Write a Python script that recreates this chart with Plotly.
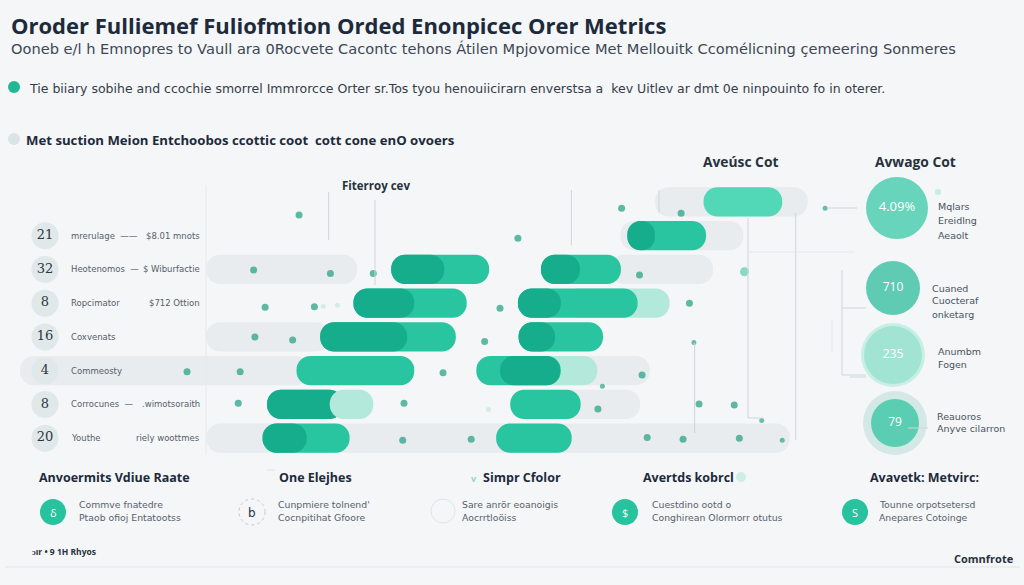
import plotly.graph_objects as go

W, H = 1024, 585
BG = "#f4f6f7"
NAVY = "#1d2a3b"
TEAL = "#29c5a1"
TEAL_DARK = "#16ad8c"
TEAL_LIGHT = "#52d8b6"
TEAL_PALE = "#b3e9da"
GRAY_PILL = "#e8ecee"
DOT = "#1e9f80"

# ---------------- data ----------------
title = "Oroder Fulliemef Fuliofmtion Orded Enonpicec Orer Metrics"
subtitle = ("Ooneb e/l h Emnopres to Vaull ara 0Rocvete Cacontc tehons Átilen "
            "Mpjovomice Met Mellouitk Ccomélicning çemeering Sonmeres")
intro = ("Tie biiary sobihe and ccochie smorrel Immrorcce Orter sr.Tos tyou henouiicirarn "
         "enverstsa a  kev Uitlev ar dmt 0e ninpouinto fo in oterer.")
section = "Met suction Meion Entchoobos ccottic coot  cott cone enO ovoers"

# left table (rows 1..7)
row_ids = [1, 2, 3, 4, 5, 6, 7]
row_numbers = ["21", "32", "8", "16", "4", "8", "20"]
row_names = ["mrerulage  ——", "Heotenomos  —", "Ropcimator", "Coxvenats",
             "Commeosty", "Corrocunes  —", "Youthe"]
row_notes = ["$8.01 mnots", "$ Wiburfactie", "$712 Ottion", "", "",
             ".wimotsoraith", "riely woottmes"]

# background pills (row, start, end) on the 0-100 score scale
gray_row = [0, 1, 2, 2, 4, 5, 5, 6, 7]
gray_start = [74.2, 68.8, 4.1, 67.2, 4.1, -25.0, 59.4, 56.3, 4.1]
gray_end = [98.1, 88.0, 27.7, 83.3, 23.4, 20.3, 73.4, 71.9, 95.3]

# pale extensions behind teal bars
pale_row = [3, 5]
pale_start = [60.0, 50.0]
pale_end = [76.5, 65.2]

# main teal bars
teal_row = [0, 1, 2, 2, 3, 3, 4, 4, 5, 5, 6, 6, 7, 7]
teal_start = [81.8, 69.9, 33.0, 56.4, 27.1, 52.8, 21.9, 52.9, 18.2, 46.3, 13.6, 51.6, 12.9, 49.4]
teal_end = [94.1, 82.2, 48.3, 68.9, 44.8, 71.5, 43.1, 66.1, 36.6, 59.5, 25.5, 62.6, 26.5, 61.2]

# darker leading segments
dark_row = [1, 2, 2, 3, 3, 4, 4, 5, 6, 7]
dark_start = [69.9, 33.0, 56.4, 27.1, 52.8, 21.9, 52.9, 50.0, 13.6, 12.9]
dark_end = [74.2, 41.3, 62.5, 36.6, 59.5, 35.5, 58.6, 59.4, 25.5, 19.8]

# pale cap drawn over a bar
cap_row = [6]
cap_start = [23.4]
cap_end = [30.2]

# scattered dots (score, row, kind: 0 normal, 1 pale small, 2 big light, 3 small)
dot_v = [18.6, 52.8, 69.0, 78.3, 11.5, 23.5, 30.2, 71.8, 88.2, 13.3, 21.0, 22.4, 24.6,
         50.0, 79.6, 11.7, 17.6, 47.6, 80.3, 1.1, 9.4, 41.1, 72.2, 66.0, 9.1, 35.0,
         48.2, 65.3, 81.1, 86.6, 90.9, 34.8, 45.5, 73.0, 78.6, 87.4, 94.1, 100.8]
dot_row = [0.39, 1.08, 0.19, 0.34, 2.02, 2.12, 2.12, 2.17, 2.07, 3.12, 3.11, 3.09, 3.06,
           3.15, 3.00, 4.00, 4.09, 4.14, 4.17, 5.03, 5.03, 5.06, 5.13, 5.46, 5.97, 5.97,
           6.15, 6.14, 5.99, 6.02, 6.48, 7.06, 7.03, 6.98, 7.03, 7.00, 7.06, 0.19]
dot_kind = [0, 0, 0, 0, 0, 0, 0, 0, 2, 0, 0, 1, 1,
            0, 0, 0, 0, 0, 3, 0, 0, 0, 0, 3, 0, 0,
            1, 0, 0, 0, 3, 0, 0, 0, 0, 0, 3, 3]

# right-hand metrics
metric_values = ["4.09%", "710", "235", "79"]
metric_labels = [["Mqlars", "Ereidlng", "Aeaolt"],
                 ["Cuaned", "Cuocteraf", "onketarg"],
                 ["Anumbm", "Fogen"],
                 ["Reauoros", "Anyve cilarron"]]

# bottom feature row
feature_titles = ["Anvoermits Vdiue Raate", "One Elejhes", "Simpr Cfolor",
                  "Avertds kobrcl", "Avavetk: Metvirc:"]
feature_lines = [["Commve fnatedre", "Ptaob ofioj Entatootss"],
                 ["Cunpmiere tolnend'", "Cocnpitihat Gfoore"],
                 ["Sare anrör eoanoigis", "Aocrrtloöiss"],
                 ["Cuestdino ootd o", "Conghirean Olormorr otutus"],
                 ["Tounne orpotsetersd", "Anepares Cotoinge"]]
feature_glyphs = ["δ", "b", "", "$", "S"]

footer_left = "ɔır • 9 1H Rhyos"
footer_right = "Comnfrote"

# ---------------- layout helpers ----------------
X0_PX, PX_PER_UNIT = 180.0, 6.4          # score 0 at 180px, 6.4px per unit
ROW0_PX, ROW_PX = 185.0, 33.75           # band top and row height


def vx(px):
    return (px - X0_PX) / PX_PER_UNIT


def ry(py):
    return (py - ROW0_PX) / ROW_PX - 0.5


def px_(x):
    return x / W


def py_(y):
    return 1 - y / H


FONT = "Open Sans"
BODY = "DejaVu Sans"
annotations = []
shapes = []


def text(x, y, s, size, color, bold=False, anchor="left", family=FONT):
    annotations.append(dict(
        x=px_(x), y=py_(y), xref="paper", yref="paper", showarrow=False,
        text=f"<b>{s}</b>" if bold else s, xanchor=anchor, yanchor="middle",
        borderpad=0,
        font=dict(size=size, color=color, family=family)))


def line(x0, y0, x1, y1, color="#cfd6d9", width=1, dash="solid"):
    shapes.append(dict(type="line", xref="paper", yref="paper",
                       x0=px_(x0), y0=py_(y0), x1=px_(x1), y1=py_(y1),
                       line=dict(color=color, width=width, dash=dash)))


def circle(cx, cy, r, fill, line_color=None, line_width=0, dash="solid"):
    shapes.append(dict(type="circle", xref="paper", yref="paper",
                       x0=px_(cx - r), x1=px_(cx + r), y0=py_(cy + r), y1=py_(cy - r),
                       fillcolor=fill,
                       line=dict(color=line_color or fill, width=line_width, dash=dash)))


fig = go.Figure()

BAR_W = 0.87


def pills(rows, starts, ends, colors, name):
    fig.add_trace(go.Bar(
        y=rows, base=starts, x=[e - s for s, e in zip(starts, ends)],
        orientation="h", width=BAR_W, name=name,
        marker=dict(color=colors, cornerradius=15, line=dict(width=0)),
        hoverinfo="skip", showlegend=False))


pills(gray_row, gray_start, gray_end, GRAY_PILL, "track")
pills(pale_row, pale_start, pale_end, TEAL_PALE, "pale")
pills(teal_row, teal_start, teal_end,
      [TEAL_LIGHT if r == 0 else TEAL for r in teal_row], "teal")
pills(dark_row, dark_start, dark_end, TEAL_DARK, "dark")
pills(cap_row, cap_start, cap_end, TEAL_PALE, "cap")

# dots
kind_style = {0: (7, DOT), 1: (5, "#c4e8de"), 2: (9, "#5acfae"), 3: (5, "#2aa887")}
fig.add_trace(go.Scatter(
    x=dot_v, y=dot_row, mode="markers", hoverinfo="skip", showlegend=False,
    marker=dict(size=[kind_style[k][0] for k in dot_kind],
                color=[kind_style[k][1] for k in dot_kind], line=dict(width=0))))

# left numbered circles
fig.add_trace(go.Scatter(
    x=[vx(45)] * len(row_ids), y=row_ids, mode="markers+text", text=row_numbers,
    textposition="middle center", hoverinfo="skip", showlegend=False,
    textfont=dict(family="DejaVu Serif", size=13, color="#2b3541"),
    marker=dict(size=27, color="#e1e8ea", line=dict(width=0))))

for r, nm, note in zip(row_ids, row_names, row_notes):
    yy = ROW0_PX + ROW_PX * (r + 0.5)
    text(70, yy, nm, 8.5, "#56606b", family=BODY)
    if note:
        text(201, yy, note, 8.5, "#56606b", anchor="right", family=BODY)

# right metric circles
metric_px = [(897, 208), (893, 288), (893, 355), (895, 423)]
metric_size = [62, 54, 58, 48]
metric_color = ["#2cc6a2", "#1fb995", "#92e0cc", "#26c09c"]
metric_ring = [None, None, "#c8efe5", "#d4e9e5"]
for (cx, cy), ring in zip(metric_px, metric_ring):
    if ring:
        fig.add_trace(go.Scatter(
            x=[vx(cx)], y=[ry(cy)], mode="markers", hoverinfo="skip", showlegend=False,
            marker=dict(size=64, color=ring, line=dict(width=0))))
fig.add_trace(go.Scatter(
    x=[vx(cx) for cx, _ in metric_px], y=[ry(cy) for _, cy in metric_px],
    mode="markers+text", text=metric_values, textposition="middle center",
    hoverinfo="skip", showlegend=False,
    textfont=dict(family=FONT, size=[13, 12, 12, 12], color="white"),
    marker=dict(size=metric_size, color=metric_color, line=dict(width=0))))

label_x = [937, 931, 937, 936]
label_y0 = [206, 288, 351, 416]
label_gap = [14.5, 13, 13, 12]
for lx, ly, gap, labels in zip(label_x, label_y0, label_gap, metric_labels):
    for i, s in enumerate(labels):
        text(lx, ly + i * gap, s, 9.5, "#4a5360", family=BODY)

# ---------------- decorations ----------------
line(206, 185, 206, 455, "#e6eaec")
for x0, y0, x1, y1 in [(328.6, 192, 328.6, 240), (375, 200, 375, 285),
                       (571.4, 190, 571.4, 245), (659, 190, 659, 213),
                       (748, 218, 748, 418), (748, 418, 763, 418),
                       (795.7, 213, 795.7, 440), (694.6, 343, 694.6, 433),
                       (827, 208, 857, 208), (842, 270, 842, 375),
                       (842, 308, 866, 308), (842, 375, 866, 375),
                       (850, 377, 866, 377), (908, 428, 928, 428)]:
    line(x0, y0, x1, y1)
line(748, 252, 855, 252, "#e3e8ea")
line(832, 320, 832, 353, "#e3e8ea")
line(5, 567, 1020, 567, "#e3e7ea")

# header texts
text(10, 25.5, title, 22, NAVY, bold=True)
text(10, 48.5, subtitle, 14.6, "#3d4755", family=BODY)
circle(14, 87, 6, "#22b894")
text(28, 88, intro, 12.5, "#343c47", family=BODY)
circle(14, 139, 6, "#dae3e5")
text(25, 139.5, section, 13.2, NAVY, bold=True)

text(341, 185, "Fiterroy cev", 11.5, "#27313d", bold=True)
text(702, 161, "Aveúsc Cot", 13.8, "#27313d", bold=True)
text(874, 161, "Avwago Cot", 13.8, "#27313d", bold=True)
circle(938, 192, 3, "#c4eee2")

# bottom features
ft_x = [38, 278, 482, 642, 869]
icon_x = [53, 252, 443, 625, 855]
txt_x = [78, 277, 461, 651, 878]
icon_style = ["fill", "dash", "outline", "fill", "fill"]
for tx, ix, lx, t, lines_, g, st in zip(ft_x, icon_x, txt_x, feature_titles,
                                          feature_lines, feature_glyphs, icon_style):
    text(tx, 477, t, 12.5, NAVY, bold=True)
    if st == "fill":
        circle(ix, 512, 13, "#27c29e")
        text(ix, 512, g, 11, "white", anchor="center")
    elif st == "dash":
        circle(ix, 512, 13, "rgba(0,0,0,0)", "#c3cbcf", 1, "dot")
        text(ix, 513, g, 12, "#2b3541", anchor="center", family="DejaVu Sans")
    else:
        circle(ix, 511, 12, "rgba(0,0,0,0)", "#dfe5e7", 1)
    for i, s in enumerate(lines_):
        text(lx, 504 + i * 13.5, s, 9.3, "#58616c", family=BODY)
text(470, 478, "v", 9, "#8fd9c4", bold=True)
circle(741, 477, 5, "#cfeee5")
line(267, 470, 275, 470, "#dfe4e6")

text(31, 551, footer_left, 8.5, "#27313d", bold=True)
text(953, 558, footer_right, 11, "#27313d", bold=True)

fig.update_layout(
    width=W, height=H, margin=dict(l=0, r=0, t=0, b=0),
    paper_bgcolor=BG, plot_bgcolor="rgba(0,0,0,0)",
    barmode="overlay", showlegend=False,
    xaxis=dict(domain=[0, 1], range=[vx(0), vx(W)], visible=False, fixedrange=True),
    yaxis=dict(domain=[0, 1], range=[ry(H), ry(0)], visible=False, fixedrange=True),
    annotations=annotations, shapes=shapes,
)

fig.write_html(
    "out.html",
    config={"displayModeBar": False},
    post_script="document.body.style.margin='0px';document.body.style.background='%s';" % BG,
)
